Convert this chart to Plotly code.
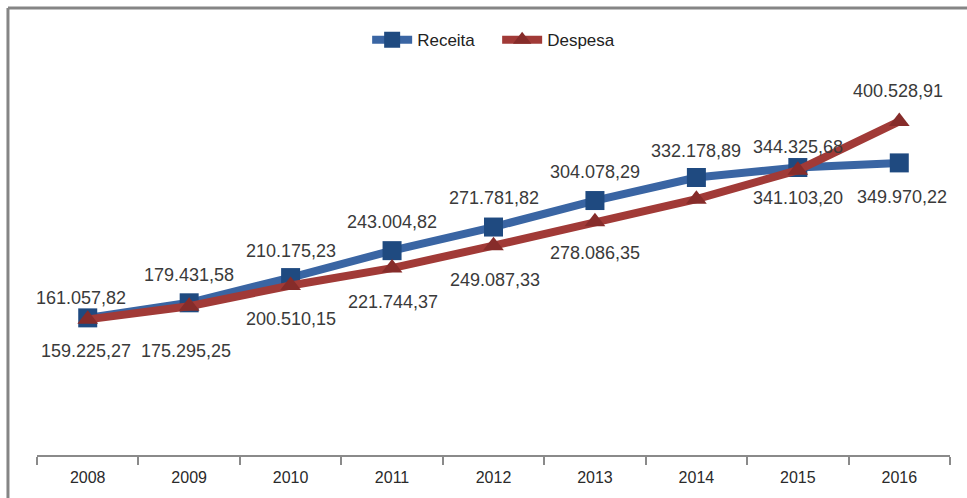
import plotly.graph_objects as go

anos = ["2008", "2009", "2010", "2011", "2012", "2013", "2014", "2015", "2016"]
receita = [161057.82, 179431.58, 210175.23, 243004.82, 271781.82, 304078.29, 332178.89, 344325.68, 349970.22]
despesa = [159225.27, 175295.25, 200510.15, 221744.37, 249087.33, 278086.35, 305800.00, 341103.20, 400528.91]
# which despesa points show a label (2014 has none in the original)
despesa_label = [True, True, True, True, True, True, False, True, True]

# label offsets in pixels (style only)
rec_shift = [(-7, 20), (0, 28), (0, 27), (0, 29), (0, 29), (0, 29), (0, 26), (0, 21), (3, -34)]
des_shift = [(-2, -32), (-3, -45), (0, -33), (1, -34), (1, -34), (0, -31), (0, -32), (0, -28), (-1, 30)]

BLUE_LINE = "#3A65A3"
BLUE_MK = "#1F4A80"
RED_LINE = "#A13A37"
RED_MK = "#862C2A"


def fmt(v):
    s = f"{v:,.2f}"
    return s.replace(",", "X").replace(".", ",").replace("X", ".")


fig = go.Figure()
fig.add_trace(go.Scatter(
    x=anos, y=receita, name="Receita", mode="lines+markers",
    line=dict(color=BLUE_LINE, width=8),
    marker=dict(symbol="square", size=19, color=BLUE_MK),
))
fig.add_trace(go.Scatter(
    x=anos, y=despesa, name="Despesa", mode="lines+markers",
    line=dict(color=RED_LINE, width=8),
    marker=dict(symbol="triangle-up", size=18, color=RED_MK),
))

ann = []
for i, a in enumerate(anos):
    dx, dy = rec_shift[i]
    ann.append(dict(x=i, y=receita[i], xref="x", yref="y", text=fmt(receita[i]), showarrow=False,
                    xshift=dx, yshift=dy,
                    font=dict(family="Liberation Sans", size=18, color="#3a3a3a")))
    if despesa_label[i]:
        dx, dy = des_shift[i]
        ann.append(dict(x=i, y=despesa[i], xref="x", yref="y", text=fmt(despesa[i]), showarrow=False,
                        xshift=dx, yshift=dy,
                        font=dict(family="Liberation Sans", size=18, color="#3a3a3a")))

# chart frame (top and left edges visible)
shapes = [
    dict(type="line", xref="paper", yref="paper", x0=-0.0318, x1=1.05, y0=1.1316, y1=1.1316,
         line=dict(color="#858585", width=3)),
    dict(type="line", xref="paper", yref="paper", x0=-0.0318, x1=-0.0318, y0=1.1316, y1=-0.2,
         line=dict(color="#858585", width=3)),
]

fig.update_layout(
    width=967, height=498,
    margin=dict(l=37, r=17, t=60, b=43),
    paper_bgcolor="white", plot_bgcolor="white",
    font=dict(family="Liberation Sans", color="#222222"),
    showlegend=True,
    legend=dict(orientation="h", x=0.504, xanchor="center", y=1.05, yanchor="middle",
                font=dict(family="Liberation Sans", size=17, color="#222222"),
                itemwidth=40, entrywidth=75, bgcolor="rgba(0,0,0,0)"),
    annotations=ann,
    shapes=shapes,
    xaxis=dict(type="category", range=[-0.5, 8.5], showgrid=False, zeroline=False,
               showline=True, linecolor="#8a8a8a", linewidth=2,
               ticks="outside", tickson="boundaries", ticklen=8, tickcolor="#8a8a8a", tickwidth=2,
               ticklabelstandoff=7,
               tickfont=dict(family="Liberation Sans", size=16, color="#2a2a2a")),
    yaxis=dict(range=[-6100, 475400], showgrid=False, zeroline=False, showline=False,
               showticklabels=False, ticks=""),
)

fig.write_html("out.html", config={"displayModeBar": False},
               post_script="document.body.style.margin='0';document.body.style.padding='0';")
